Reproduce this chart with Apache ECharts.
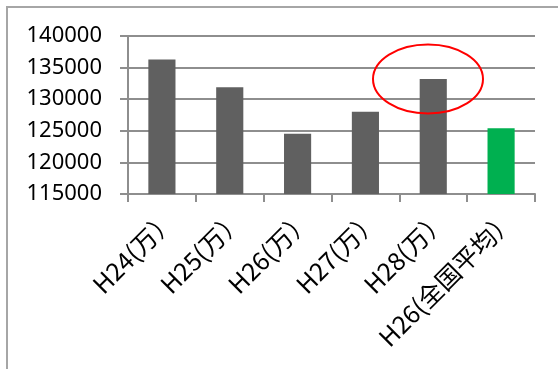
<!DOCTYPE html>
<html>
<head>
<meta charset="utf-8">
<script src="https://cdn.jsdelivr.net/npm/echarts@6/dist/echarts.min.js"></script>
<style>html,body{margin:0;padding:0;background:#fff}#c{width:558px;height:369px}</style>
</head>
<body>
<div id="c"></div>
<script>
var categories = ['H24(万）', 'H25(万）', 'H26(万）', 'H27(万）', 'H28(万）', 'H26(全国平均）'];
var values = [136300, 131900, 124550, 128000, 133200, 125400];
var barColors = ['#606060', '#606060', '#606060', '#606060', '#606060', '#00b050'];
var yMin = 115000, yMax = 140000, yStep = 5000;

var chart = echarts.init(document.getElementById('c'));
chart.setOption({
  animation: false,
  grid: {left: 128, right: 23, top: 36, bottom: 175},
  xAxis: {
    type: 'category',
    data: categories,
    axisLine: {lineStyle: {color: '#8e8e8e', width: 2}},
    axisTick: {show: true, length: 8, lineStyle: {color: '#8e8e8e', width: 2}},
    axisLabel: {rotate: 45, fontSize: 25, color: '#000', margin: 12, verticalAlign: 'top', fontFamily: 'Noto Sans CJK JP'}
  },
  yAxis: {
    type: 'value',
    min: yMin, max: yMax, interval: yStep,
    axisLine: {show: true, lineStyle: {color: '#8e8e8e', width: 2}},
    axisTick: {show: true, length: 8, lineStyle: {color: '#8e8e8e', width: 2}},
    splitLine: {lineStyle: {color: '#8e8e8e', width: 2}},
    axisLabel: {fontSize: 22, color: '#000', margin: 26, fontFamily: 'Noto Sans', formatter: function (v) { return String(v); }}
  },
  series: [{
    type: 'bar',
    barWidth: '40%',
    data: values.map(function (v, i) { return {value: v, itemStyle: {color: barColors[i]}}; })
  }],
  graphic: [
    {type: 'polyline', shape: {points: [[7, 369], [7, 7], [558, 7]]}, style: {stroke: '#a6a6a6', lineWidth: 2, fill: null}},
    {type: 'ellipse', shape: {cx: 428, cy: 79, rx: 55, ry: 34.5}, style: {stroke: '#ff0000', lineWidth: 2, fill: null}, z: 100}
  ]
});
</script>
</body>
</html>
